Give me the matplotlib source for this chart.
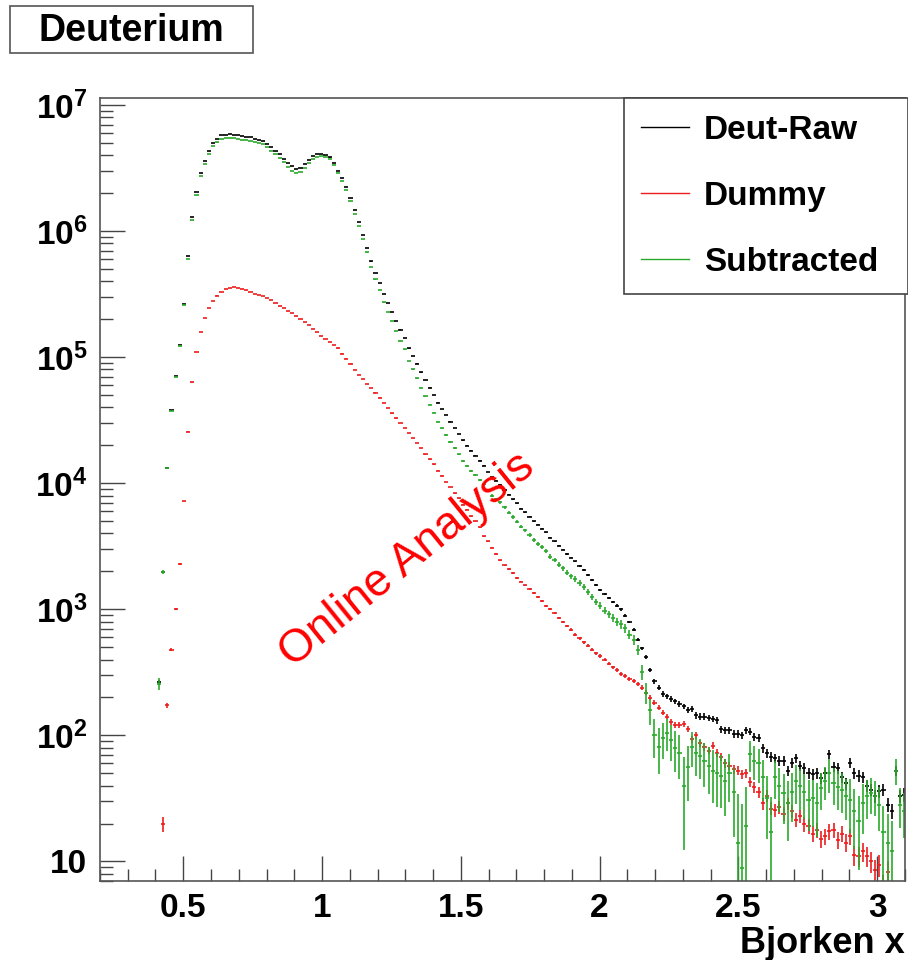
import numpy as np
import matplotlib.pyplot as plt
from matplotlib.lines import Line2D
from matplotlib.patches import Rectangle
from matplotlib.ticker import FixedLocator, FixedFormatter, MultipleLocator, LogLocator, NullFormatter

plt.rcParams['font.family'] = ['Liberation Sans', 'DejaVu Sans']
plt.rcParams['font.weight'] = 'bold'
plt.rcParams['mathtext.fontset'] = 'custom'
plt.rcParams['mathtext.rm'] = 'Liberation Sans:bold'
plt.rcParams['mathtext.bf'] = 'Liberation Sans:bold'
plt.rcParams['mathtext.it'] = 'Liberation Sans:bold'

#
#   DONNEES : histogrammes en Bjorken x, valeurs lues en log10(coups)
#
bin_width = 0.015
x_first = 0.4125

raw_log = [
    2.42, 3.30, 4.125, 4.58, 4.85, 5.10, 5.425, 5.80, 6.11, 6.31,
    6.46, 6.556, 6.635, 6.70, 6.73, 6.76, 6.765, 6.77, 6.765, 6.76,
    6.755, 6.75, 6.745, 6.735, 6.725, 6.715, 6.69, 6.665, 6.64, 6.61,
    6.575, 6.545, 6.515, 6.49, 6.50, 6.53, 6.565, 6.595, 6.61, 6.616,
    6.605, 6.585, 6.54, 6.48, 6.42, 6.35, 6.26, 6.165, 6.07, 5.97,
    5.87, 5.76, 5.67, 5.59, 5.50, 5.43, 5.36, 5.29, 5.22, 5.155,
    5.07, 5.01, 4.95, 4.88, 4.82, 4.76, 4.70, 4.64, 4.59, 4.54,
    4.49, 4.44, 4.39, 4.34, 4.30, 4.26, 4.22, 4.18, 4.14, 4.09,
    4.05, 4.02, 3.99, 3.95, 3.91, 3.875, 3.84, 3.80, 3.77, 3.735,
    3.70, 3.67, 3.64, 3.61, 3.57, 3.54, 3.505, 3.475, 3.44, 3.41,
    3.38, 3.345, 3.31, 3.27, 3.23, 3.19, 3.15, 3.12, 3.09, 3.06,
    3.03, 3.00, 2.95, 2.90, 2.84, 2.76, 2.69, 2.62, 2.52, 2.43,
    2.38, 2.33, 2.31, 2.29, 2.27, 2.25, 2.23, 2.20, 2.21, 2.16,
    2.15, 2.15, 2.14, 2.13, 2.12, 2.05, 2.04, 2.04, 2.01, 2.01,
    2.00, 2.04, 2.03, 1.99, 1.98, 1.90, 1.86, 1.83, 1.82, 1.80,
    1.80, 1.72, 1.78, 1.82, 1.76, 1.74, 1.70, 1.69, 1.70, 1.66,
    1.70, 1.85, 1.75, 1.74, 1.67, 1.62, 1.78, 1.70, 1.68, 1.67,
    1.60, 1.57, 1.52, 1.56, 1.57, 1.45, 1.40, 1.72, 1.52, 1.53,
]

dummy_log = [
    np.nan, 1.30, 2.24, 2.68, 3.00, 3.36, 3.86, 4.41, 4.80, 5.04,
    5.20, 5.31, 5.39, 5.445, 5.49, 5.52, 5.54, 5.55, 5.555, 5.55,
    5.545, 5.535, 5.52, 5.505, 5.495, 5.485, 5.47, 5.455, 5.43, 5.41,
    5.39, 5.37, 5.35, 5.33, 5.305, 5.28, 5.255, 5.225, 5.20, 5.17,
    5.145, 5.12, 5.10, 5.07, 5.03, 4.99, 4.95, 4.90, 4.86, 4.83,
    4.79, 4.755, 4.72, 4.68, 4.64, 4.60, 4.555, 4.515, 4.48, 4.44,
    4.40, 4.36, 4.32, 4.28, 4.23, 4.19, 4.15, 4.10, 4.06, 4.01,
    3.97, 3.92, 3.88, 3.83, 3.79, 3.74, 3.70, 3.65, 3.58, 3.54,
    3.49, 3.44, 3.39, 3.35, 3.32, 3.29, 3.25, 3.22, 3.19, 3.16,
    3.13, 3.10, 3.065, 3.03, 3.00, 2.97, 2.93, 2.90, 2.87, 2.84,
    2.80, 2.77, 2.74, 2.71, 2.68, 2.65, 2.63, 2.60, 2.57, 2.54,
    2.52, 2.49, 2.47, 2.45, 2.43, 2.41, 2.38, 2.34, 2.30, 2.26,
    2.22, 2.18, 2.15, 2.11, 2.08, 2.08, 2.09, 2.05, 1.97, 2.00,
    1.94, 1.91, 1.88, 1.92, 1.86, 1.83, 1.78, 1.76, 1.73, 1.72,
    1.69, 1.70, 1.63, 1.59, 1.55, 1.46, 1.52, 1.42, 1.41, 1.43,
    1.38, 1.46, 1.40, 1.33, 1.36, 1.30, 1.28, 1.22, 1.25, 1.18,
    1.20, 1.24, 1.25, 1.17, 1.22, 1.15, 1.20, 1.05, 1.04, 1.08,
    1.04, 1.00, 0.93, 0.97, 0.80, 0.92, 0.75, 0.60, 0.70, 0.60,
]

sub_log = [
    2.41, 3.295, 4.119, 4.574, 4.844, 5.092, 5.413, 5.782, 6.088, 6.286,
    6.436, 6.531, 6.610, 6.675, 6.704, 6.734, 6.738, 6.743, 6.737, 6.732,
    6.727, 6.723, 6.718, 6.708, 6.699, 6.689, 6.668, 6.637, 6.612, 6.582,
    6.546, 6.509, 6.479, 6.459, 6.471, 6.505, 6.543, 6.576, 6.592, 6.600,
    6.590, 6.570, 6.524, 6.463, 6.402, 6.330, 6.238, 6.140, 6.043, 5.937,
    5.832, 5.714, 5.618, 5.533, 5.435, 5.360, 5.286, 5.21, 5.133, 5.063,
    4.97, 4.905, 4.835, 4.76, 4.69, 4.625, 4.56, 4.49, 4.435, 4.385,
    4.329, 4.279, 4.229, 4.175, 4.139, 4.100, 4.064, 4.024, 3.996, 3.942,
    3.902, 3.876, 3.850, 3.810, 3.766, 3.733, 3.696, 3.656, 3.626, 3.589,
    3.552, 3.522, 3.492, 3.462, 3.418, 3.393, 3.355, 3.325, 3.292, 3.262,
    3.24, 3.21, 3.18, 3.14, 3.10, 3.06, 3.03, 2.99, 2.96, 2.93,
    2.90, 2.88, 2.85, 2.80, 2.76, 2.68, 2.50, 2.34, 2.20, 2.00,
    1.91, 1.98, 2.02, 1.96, 1.90, 1.86, 1.60, 1.75, 1.91, 1.86,
    1.84, 1.80, 1.76, 1.72, 1.70, 1.68, 1.64, 1.70, 1.55, 1.15,
    0.95, 1.28, 1.85, 1.80, 1.78, 1.67, 1.50, 1.23, 1.67, 1.60,
    1.54, 1.46, 1.55, 1.64, 1.60, 1.55, 1.49, 1.50, 1.46, 1.58,
    1.64, 1.70, 1.62, 1.59, 1.57, 1.52, 1.49, 1.40, 1.32, 1.46,
    1.52, 1.54, 1.52, 1.45, 1.23, 1.15, 1.08, 1.72, 1.45, 1.40,
]

labels = ["Deut-Raw", "Dummy", "Subtracted"]
couleurs = ["black", "#ee1c1c", "#2aaa2a"]

y_ticks = [10, 1e2, 1e3, 1e4, 1e5, 1e6, 1e7]
y_labels = ["10", r"$10^{2}$", r"$10^{3}$", r"$10^{4}$", r"$10^{5}$", r"$10^{6}$", r"$10^{7}$"]

# centres des bins
x = x_first + bin_width * np.arange(len(raw_log))
raw = 10 ** np.array(raw_log)
dummy = 10 ** np.array(dummy_log)
sub = 10 ** np.array(sub_log)

# erreurs statistiques (Poisson, coups pre-scales)
raw_err = 0.7 * np.sqrt(raw)
dummy_err = 0.6 * np.sqrt(np.nan_to_num(dummy))
sub_err = 1.6 * np.sqrt(raw + np.nan_to_num(dummy))

fig = plt.figure(figsize=(9.08, 9.6), dpi=100)
ax = fig.add_axes([0.1101, 0.0823, 0.8866, 0.8156])

for yv, ye, c in [(raw, raw_err, couleurs[0]), (dummy, dummy_err, couleurs[1]), (sub, sub_err, couleurs[2])]:
    ax.errorbar(x, yv, yerr=ye, xerr=bin_width / 2, fmt='none', ecolor=c, elinewidth=1.2, capsize=0)

ax.set_yscale('log', nonpositive='clip')
ax.set_xlim(0.2, 3.1)
ax.set_ylim(7.0, 1.14e7)

ax.yaxis.set_major_locator(FixedLocator(y_ticks))
ax.yaxis.set_major_formatter(FixedFormatter(y_labels))
ax.yaxis.set_minor_locator(LogLocator(base=10, subs=np.arange(2, 10)))
ax.yaxis.set_minor_formatter(NullFormatter())
ax.xaxis.set_major_locator(MultipleLocator(0.5))
ax.xaxis.set_minor_locator(MultipleLocator(0.1))
ax.xaxis.set_major_formatter(plt.FuncFormatter(lambda v, p: f"{v:g}"))

ax.tick_params(which='major', direction='in', length=18, width=1.0, color='#444444', labelsize=24, pad=9)
ax.tick_params(which='minor', direction='in', length=9, width=1.0, color='#444444')
for s in ax.spines.values():
    s.set_color('#555555')
    s.set_linewidth(1.2)

ax.set_xlabel("Bjorken x", fontsize=26, fontweight='bold', loc='right', labelpad=1)

poignees = [Line2D([], [], color=c, lw=1.0) for c in couleurs]
leg = ax.legend(poignees, labels, loc='upper left', bbox_to_anchor=(0.651, 0.0, 0.353, 1.0),
                mode='expand', borderaxespad=0, fontsize=24, handlelength=1.45, handletextpad=0.45,
                labelspacing=1.05, borderpad=0.5, fancybox=False, edgecolor='#444444', framealpha=1)
leg.get_frame().set_linewidth(1.2)

ax.text(0.381, 0.41, "Online Analysis", transform=ax.transAxes, rotation=39, color='red',
        fontsize=33, fontweight='normal', ha='center', va='center')

# titre encadre
fig.patches.append(Rectangle((10 / 908, 1 - 53 / 960), 243 / 908, 47 / 960, transform=fig.transFigure,
                             facecolor='white', edgecolor='#555555', linewidth=1.2))
fig.text(131 / 908, 1 - 31 / 960, "Deuterium", fontsize=27, fontweight='bold', ha='center', va='center')

fig.savefig("out.png", dpi=100)
